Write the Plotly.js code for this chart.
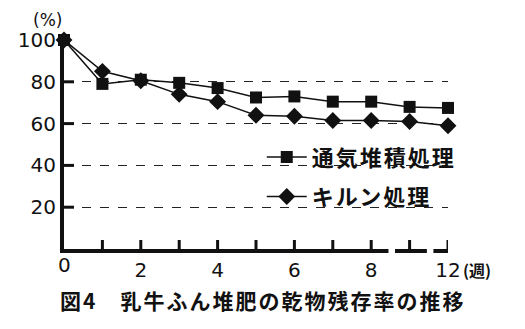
<!DOCTYPE html>
<html>
<head>
<meta charset="utf-8">
<script src="https://cdn.plot.ly/plotly-3.0.1.min.js"></script>
<style>
html,body{margin:0;padding:0;background:#fff;}
#chart{width:525px;height:329px;}
.legendtext { letter-spacing: 2px; }
.annotation-text.cjk { letter-spacing: 2px; }
</style>
</head>
<body>
<div id="chart"></div>
<script>
// Weeks of measurement
const weeks = [0, 1, 2, 3, 4, 5, 6, 7, 8, 10, 12];
// 通気堆積処理 (%)
const aerated = [100, 79, 81, 79.5, 77, 72.5, 73, 70.5, 70.5, 68, 67.5];
// キルン処理 (%)
const kiln = [100, 85, 80.5, 74, 70.5, 64, 63.5, 61.5, 61.5, 61, 59];
const seriesNames = ['通気堆積処理', 'キルン処理'];
const xTickWeeks = [1, 2, 3, 4, 5, 6, 7, 8, 10, 12];
const xTickLabels = ['', '2', '', '4', '', '6', '', '8', '', '12'];
const yTicks = [20, 40, 60, 80, 100];
const yTickMarks = [20, 40, 60, 80];

// broken axis: weeks beyond 8 are compressed (2 weeks per unit)
function pos(w) { return w <= 8 ? w : 8 + (w - 8) / 2; }

const xs = weeks.map(pos);
const traces = [
  {x: xs, y: aerated, name: seriesNames[0], type: 'scatter', mode: 'lines+markers',
   line: {color: '#111', width: 1.5}, cliponaxis: false,
   marker: {symbol: 'square', size: 12, color: '#111'}, legendgroup: 'a'},
  {x: xs, y: kiln, name: seriesNames[1], type: 'scatter', mode: 'lines+markers',
   line: {color: '#111', width: 1.5}, cliponaxis: false,
   marker: {symbol: 'diamond', size: 13, color: '#111'}, legendgroup: 'b'}
];

const numFont = {family: 'DejaVu Sans, Arial, sans-serif', size: 20, color: '#111'};
const cjk = 'Noto Sans CJK JP, sans-serif';

// tick stubs drawn inside the axes (from the tick arrays)
const tickShapes = xTickWeeks.map(function(w){
  return {type: 'line', xref: 'x', yref: 'y', ysizemode: 'pixel', yanchor: 0,
          x0: pos(w), x1: pos(w), y0: 0, y1: 9, line: {color: '#111', width: 3}, layer: 'above'};
}).concat(yTickMarks.map(function(v){
  return {type: 'line', xref: 'x', yref: 'y', xsizemode: 'pixel', xanchor: 0,
          x0: 0, x1: 10, y0: v, y1: v, line: {color: '#111', width: 3}, layer: 'above'};
}));

const breakShapes = [
  {type: 'rect', xref: 'x', yref: 'paper', x0: 8.45, x1: 8.62, y0: -0.03, y1: 0.06,
   fillcolor: '#fff', line: {width: 0}, layer: 'above'},
  {type: 'rect', xref: 'x', yref: 'paper', x0: 9.45, x1: 9.62, y0: -0.03, y1: 0.06,
   fillcolor: '#fff', line: {width: 0}, layer: 'above'}
];

const layout = {
  width: 525, height: 329,
  margin: {l: 64, r: 77, t: 40, b: 80},
  paper_bgcolor: '#fff', plot_bgcolor: '#fff',
  showlegend: true,
  legend: {x: 0.515, y: 0.54, xanchor: 'left', yanchor: 'top',
           font: {family: cjk, size: 22, color: '#111', weight: 'bold'},
           itemwidth: 40, tracegroupgap: 8, bgcolor: 'rgba(0,0,0,0)'},
  xaxis: {range: [0, 10], tickmode: 'array', tickvals: xTickWeeks.map(pos), ticktext: xTickLabels,
          ticks: '', showline: true, linewidth: 4, linecolor: '#111', layer: 'above traces',
          showgrid: false, zeroline: false, tickfont: numFont, fixedrange: true},
  yaxis: {range: [0, 100], tickmode: 'array', tickvals: yTicks, ticks: '',
          showline: true, linewidth: 4, linecolor: '#111', layer: 'above traces',
          showgrid: true, gridcolor: '#222', gridwidth: 1, griddash: 'dash',
          zeroline: false, tickfont: numFont, fixedrange: true},
  shapes: tickShapes.concat(breakShapes),
  annotations: [
    {text: '0', xref: 'x', yref: 'paper', x: 0, y: 0, yshift: -16, showarrow: false,
     font: numFont, xanchor: 'center', yanchor: 'middle'},
    {text: '(%)', xref: 'paper', yref: 'paper', x: 0, y: 1, xshift: 0, yshift: 20,
     showarrow: false, font: {family: 'DejaVu Sans, sans-serif', size: 17, color: '#111'},
     xanchor: 'right', yanchor: 'middle'},
    {text: '(週)', xref: 'paper', yref: 'paper', x: 1, y: 0, xshift: 13, yshift: -21,
     showarrow: false, font: {family: cjk, size: 16, color: '#111', weight: 'bold'},
     xanchor: 'left', yanchor: 'middle'},
    {text: '図4　乳牛ふん堆肥の乾物残存率の推移', xref: 'paper', yref: 'paper',
     x: 0.517, y: 0, yshift: -51, showarrow: false, captureevents: false,
     font: {family: cjk, size: 21, color: '#111', weight: 'bold'},
     xanchor: 'center', yanchor: 'middle'}
  ]
};

Plotly.newPlot('chart', traces, layout, {staticPlot: true, displayModeBar: false}).then(function(){
  document.querySelectorAll('.annotation-text').forEach(function(el){
    if (/図4/.test(el.textContent)) el.classList.add('cjk');
  });
});
</script>
</body>
</html>
